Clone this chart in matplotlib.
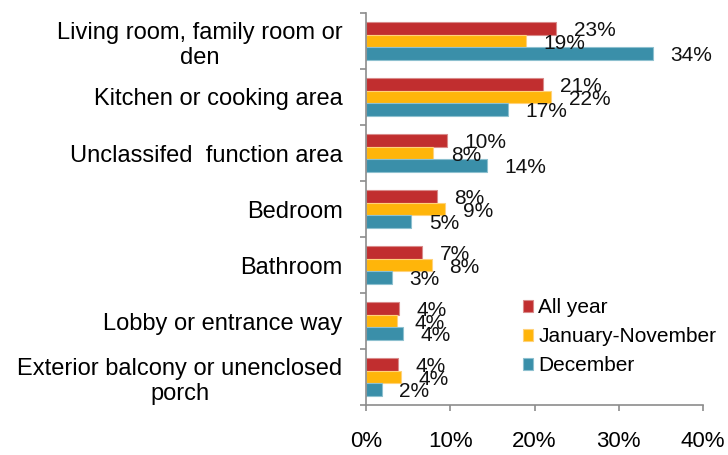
import matplotlib.pyplot as plt
import numpy as np
from matplotlib.ticker import FixedLocator, PercentFormatter

categories = [
    "Living room, family room or\nden",
    "Kitchen or cooking area",
    "Unclassifed  function area",
    "Bedroom",
    "Bathroom",
    "Lobby or entrance way",
    "Exterior balcony or unenclosed\nporch",
]
all_year = [22.6, 21.0, 9.6, 8.4, 6.7, 3.9, 3.8]
jan_nov = [19.0, 22.0, 8.0, 9.4, 7.8, 3.7, 4.2]
december = [34.1, 16.9, 14.4, 5.4, 3.1, 4.4, 1.9]
series_names = ["All year", "January-November", "December"]
colors = ["#C12E2F", "#FFB50A", "#3A8FA9"]
edges = ["#D98A8A", "#FFD27A", "#8DC0CF"]

plt.rcParams["font.family"] = ["Liberation Sans", "DejaVu Sans"]
fs = 17       # category labels
fs_tick = 16  # x tick labels
fs_small = 15  # data labels, legend

fig = plt.figure(figsize=(7.28, 4.55), dpi=100)
ax = fig.add_axes([366 / 728, 1 - 405 / 455, 337 / 728, 392 / 455])

n = len(categories)
y = np.arange(n)
h = 0.223
for i, (vals, name) in enumerate(zip([all_year, jan_nov, december], series_names)):
    pos = y + (i - 1) * h
    ax.barh(pos, vals, height=h, color=colors[i], edgecolor=edges[i],
            linewidth=0.8, label=name)
    for p, v in zip(pos, vals):
        ax.annotate(f"{round(v):.0f}%", (v, p), xytext=(12.5, -1.5),
                    textcoords="offset points", ha="left", va="center",
                    fontsize=fs_small, color="#111111")

ax.set_xlim(0, 40)
ax.set_ylim(n - 0.5, -0.5)
ax.set_xticks([0, 10, 20, 30, 40])
ax.xaxis.set_major_formatter(PercentFormatter(decimals=0))
ax.tick_params(axis="x", direction="out", length=4, width=1.2, color="#8C8C8C",
               pad=15, labelsize=fs_tick)

ax.yaxis.set_major_locator(FixedLocator(np.arange(n + 1) - 0.5))
ax.yaxis.set_minor_locator(FixedLocator(y))
ax.set_yticklabels([])
ax.set_yticklabels(categories, minor=True, fontsize=fs, ha="right",
                   multialignment="center")
ax.tick_params(axis="y", which="major", direction="out", length=4, width=1.2,
               color="#8C8C8C")
ax.tick_params(axis="y", which="minor", length=0, pad=17)

for side in ["top", "right"]:
    ax.spines[side].set_visible(False)
for side in ["left", "bottom"]:
    ax.spines[side].set_color("#8C8C8C")
    ax.spines[side].set_linewidth(1.2)

ax.legend(loc="upper left", bbox_to_anchor=(0.44, 0.294), frameon=False,
          fontsize=fs_small, handlelength=0.5, handleheight=0.5,
          handletextpad=0.25, labelspacing=0.48, borderaxespad=0)

fig.savefig("out.png", dpi=100)
